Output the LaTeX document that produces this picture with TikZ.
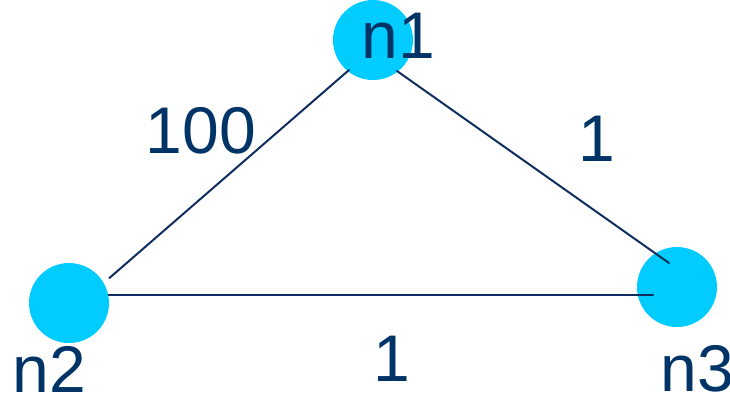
\documentclass[tikz,border=0pt]{standalone}
\usepackage{fontspec}
\setmainfont{Liberation Sans}
\begin{document}
\begin{tikzpicture}[x=0.5pt, y=-0.5pt, line cap=round, line join=round]
			\definecolor{dotcolor}{RGB}{0, 204, 255}
			\definecolor{inkcolor}{RGB}{0, 51, 102}
			\definecolor{edgecolor}{RGB}{15, 45, 95}
			\tikzset{
				dot/.style={circle, fill=dotcolor, minimum size=40pt, inner sep=0},
				edge/.style={edgecolor, line width=1pt},
				lbl/.style={inkcolor, inner sep=0, font=\fontsize{33pt}{36pt}\selectfont}
			}
			\useasboundingbox (0, 0) rectangle (730, 398);
			\node[dot] (n1) at (373, 40) {};
			\node[dot] (n2) at (69, 303) {};
			\node[dot] (n3) at (677, 287) {};
			% edges
			\draw[edge] ([xshift=-12pt, yshift=-15pt]n1.center) -- ([yshift=12.5pt]n2.east);
			\draw[edge] ([xshift=12pt, yshift=-15.5pt]n1.center) -- ([xshift=-4pt, yshift=12pt]n3.center);
			\draw[edge] (n2.12) -- ([xshift=-12pt]n3.center |- n2.12);
			% labels
			\node[lbl, anchor=base west] (t1) at (361, 58) {n1};
			\node[lbl, anchor=base west] (t2) at (12, 392) {n2};
			\node[lbl, anchor=base west] (t3) at (660, 391) {n3};
			\node[lbl, anchor=base] (w12) at (201, 153) {100};
			\node[lbl, anchor=base] (w13) at (597, 161) {1};
			\node[lbl, anchor=base] (w23) at (392, 381) {1};
		\end{tikzpicture}
\end{document}
